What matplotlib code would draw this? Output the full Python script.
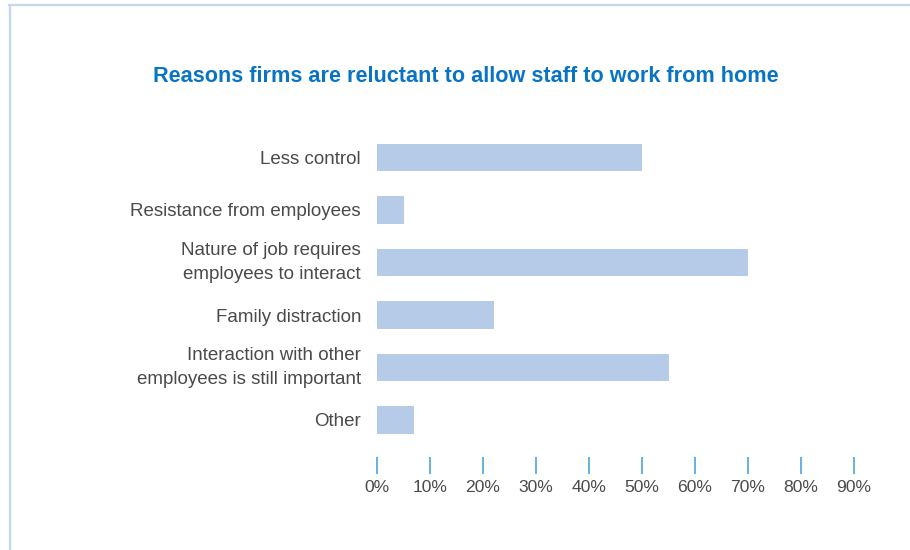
from pathlib import Path

import matplotlib.pyplot as plt
from matplotlib.lines import Line2D
from matplotlib.ticker import FuncFormatter

# data
categories: list = [
    "Less control",
    "Resistance from employees",
    "Nature of job requires\nemployees to interact",
    "Family distraction",
    "Interaction with other\nemployees is still important",
    "Other",
]
values: list = [50, 5, 70, 22, 55, 7]
x_ticks: list = [0, 10, 20, 30, 40, 50, 60, 70, 80, 90]
title: str = "Reasons firms are reluctant to allow staff to work from home"


def main() -> None:
    # config
    fp: Path = Path("out.png")
    plt.rcParams["font.family"] = ["Liberation Sans", "DejaVu Sans"]
    W, H = 910, 550
    c_bar: str = "#b6cbe8"
    c_title: str = "#0a74c4"
    c_text: str = "#4a4a4a"
    c_tick: str = "#3d9bd6"
    c_border: str = "#c6d6ec"
    # generate figure
    fig: plt.Figure = plt.figure(figsize=(W / 100, H / 100), dpi=100)
    x0, x1 = 377, 854
    y_top, y_bot = 131.25, 446.25
    ax: plt.Axes = fig.add_axes([x0 / W, 1 - y_bot / H, (x1 - x0) / W, (y_bot - y_top) / H])
    # plot
    ypos = list(range(len(categories)))
    ax.barh(ypos, values, height=0.52, color=c_bar, left=0)
    # arrange
    ax.set_xlim(0, 90)
    ax.set_ylim(len(categories) - 0.5, -0.5)
    ax.set_yticks(ypos)
    ax.set_yticklabels(categories, fontsize=13.5, color=c_text, linespacing=1.55)
    for lbl in ax.get_yticklabels():
        if "\n" in lbl.get_text():
            lbl.set_va("center")
    ax.set_xticks(x_ticks)
    ax.xaxis.set_major_formatter(FuncFormatter(lambda v, p: f"{v:.0f}%"))
    for s in ax.spines.values():
        s.set_visible(False)
    ax.spines["bottom"].set_position(("outward", 8))
    ax.tick_params(axis="y", length=0, pad=11.5)
    ax.tick_params(axis="x", length=12.2, width=1.1, color=c_tick,
                   labelsize=12.6, labelcolor=c_text, pad=4)
    # title
    fig.text(466 / W, 1 - 76 / H, title, ha="center", va="center",
             fontsize=15.6, fontweight="bold", color=c_title)
    # border lines
    fig.add_artist(Line2D([9.5 / W, 9.5 / W], [0, 1 - 5 / H], transform=fig.transFigure,
                          color=c_border, linewidth=1.6))
    fig.add_artist(Line2D([9 / W, 1], [1 - 5 / H, 1 - 5 / H], transform=fig.transFigure,
                          color=c_border, linewidth=1.6))
    # output
    fig.savefig(fp, dpi=100)
    plt.close(fig)
    return None


if __name__ == "__main__":
    main()
